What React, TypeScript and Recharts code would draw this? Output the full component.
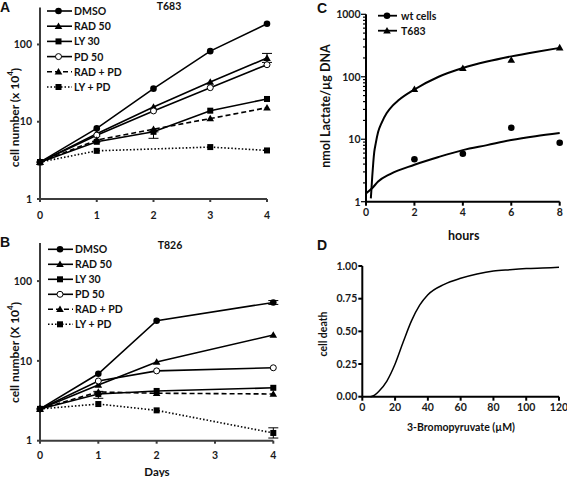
import { LineChart, ComposedChart, Line, XAxis, YAxis, Legend, ErrorBar } from "recharts";

// ---- panel A: T683 growth, cell number (x 10^4) ----
const daysA = [0, 1, 2, 3, 4];
const dmsoA = [3, 8.2, 26.8, 82, 185];
const radA = [3, 7.0, 15.5, 32.7, 66.6];
const lyA = [3, 5.5, 7.4, 13.9, 19.7];
const pdA = [3, 6.7, 13.8, 27.6, 54.7];
const radPdA = [3, 5.8, 8.0, 11, 15.2];
const lyPdA = [3, 4.2, null, 4.7, 4.25];
const radErrA = [null, null, null, null, [8, 10]];
const lyErrA = [null, null, [1.3, 0], null, null];

// ---- panel B: T826 growth ----
const daysB = [0, 1, 2, 4];
const dmsoB = [2.5, 6.9, 31.9, 54];
const radB = [2.5, 5.0, 9.7, 21.1];
const lyB = [2.5, 3.85, 4.2, 4.6];
const pdB = [2.5, 5.6, 7.5, 8.2];
const radPdB = [2.5, 4.08, 3.93, 3.85];
const lyPdB = [2.5, 2.88, 2.4, 1.25];
const dmsoErrB = [null, null, null, [3, 3]];
const lyErrB = [null, [0.45, 0.3], null, null];
const lyPdErrB = [null, null, null, [0.17, 0.2]];

const dayTicks = [0, 1, 2, 3, 4];
const growthTicks = [1, 10, 100];

// ---- panel C: lactate ----
const hoursC = [2, 4, 6, 8];
const wtC = [4.77, 5.87, 15.3, 8.8];
const t683C = [63, 137, 186, 293];
const wtFitX = [0, 0.25, 0.5, 1, 2, 3, 4, 5, 6, 7, 8];
const wtFitY = [1.36, 1.64, 2.1, 2.77, 3.9, 5.2, 6.7, 8.05, 9.7, 11.2, 12.6];
const t683FitX = [0.2, 0.26, 0.3, 0.34, 0.4, 0.5, 0.65, 0.85, 1.1, 1.34, 2, 3, 4, 5, 6, 7, 8];
const t683FitY = [1.13, 2.6, 4.2, 6.2, 8.5, 13, 18.5, 26, 34.5, 42, 62.5, 100, 138, 175, 212, 250, 290];
const hourTicks = [0, 2, 4, 6, 8];
const lactateMajor = [1, 10, 100, 1000];
const lactateMinor = [2, 3, 4, 5, 6, 7, 8, 9];

// ---- panel D: dose response ----
const doseD = [5, 7.5, 10, 15, 20, 25, 30, 35, 40, 50, 60, 70, 80, 90, 100, 110, 120];
const deathD = [0, 0.012, 0.04, 0.12, 0.25, 0.42, 0.58, 0.7, 0.78, 0.86, 0.906, 0.939, 0.962, 0.972, 0.98, 0.985, 0.99];
const doseTicks = [0, 20, 40, 60, 80, 100, 120];
const deathTicks = [0, 0.25, 0.5, 0.75, 1];

const growthSeries = [
  { key: "dmso", name: "DMSO", shape: "circle" },
  { key: "rad", name: "RAD 50", shape: "triangle" },
  { key: "ly", name: "LY 30", shape: "square" },
  { key: "pd", name: "PD 50", shape: "open" },
  { key: "radPd", name: "RAD + PD", shape: "triangle", dash: "5 3" },
  { key: "lyPd", name: "LY + PD", shape: "square", dash: "1.5 2" },
];

const tableA = daysA.map((day, i) => ({
  day,
  dmso: dmsoA[i],
  rad: radA[i],
  ly: lyA[i],
  pd: pdA[i],
  radPd: radPdA[i],
  lyPd: lyPdA[i],
  radErr: radErrA[i],
  lyErr: lyErrA[i],
}));

const tableB = daysB.map((day, i) => ({
  day,
  dmso: dmsoB[i],
  rad: radB[i],
  ly: lyB[i],
  pd: pdB[i],
  radPd: radPdB[i],
  lyPd: lyPdB[i],
  dmsoErr: dmsoErrB[i],
  lyErr: lyErrB[i],
  lyPdErr: lyPdErrB[i],
}));

const wtPts = hoursC.map((x, i) => ({ x, y: wtC[i] }));
const t683Pts = hoursC.map((x, i) => ({ x, y: t683C[i] }));
const wtFit = wtFitX.map((x, i) => ({ x, y: wtFitY[i] }));
const t683Fit = t683FitX.map((x, i) => ({ x, y: t683FitY[i] }));
const lactateTicks = [
  ...lactateMajor,
  ...lactateMajor.slice(0, 3).flatMap((d) => lactateMinor.map((m) => m * d)),
].sort((a, b) => a - b);
const tableD = doseD.map((dose, i) => ({ dose, death: deathD[i] }));

const FONT = "Lato";
const tickStyle = { fill: "#1a1a1a", fontSize: 10.5, fontWeight: "bold", fontFamily: FONT };

function Marker({ shape, cx, cy }: { shape: string; cx: number; cy: number }) {
  if (shape === "circle") return <circle cx={cx} cy={cy} r={3.3} fill="#000" />;
  if (shape === "open")
    return <circle cx={cx} cy={cy} r={3} fill="#fff" stroke="#000" strokeWidth={1} />;
  if (shape === "square") return <rect x={cx - 3} y={cy - 3} width={6} height={6} fill="#000" />;
  return (
    <polygon
      points={`${cx},${cy - 3.8} ${cx + 3.8},${cy + 2.8} ${cx - 3.8},${cy + 2.8}`}
      fill="#000"
    />
  );
}

const dotFor = (shape: string, id: string) => (p: any) => {
  if (p.value == null || p.cx == null || p.cy == null) return <g key={`${id}-${p.index}`} />;
  return (
    <g key={`${id}-${p.index}`}>
      <Marker shape={shape} cx={p.cx} cy={p.cy} />
    </g>
  );
};

function GrowthLegend({ y0, gap, lx, mx, tx }: any) {
  return (
    <svg width={110} height={100}>
      {growthSeries.map((s, i) => {
        const y = y0 + i * gap;
        return (
          <g key={s.key}>
            <line x1={lx} x2={lx + 25} y1={y} y2={y} stroke="#000" strokeWidth={1.6} strokeDasharray={s.dash} />
            <Marker shape={s.shape} cx={mx} cy={y} />
            <text x={tx} y={y} dominantBaseline="central" fontSize={10.5} fontWeight="bold" fontFamily={FONT} fill="#111">
              {s.name}
            </text>
          </g>
        );
      })}
    </svg>
  );
}

function LactateLegend() {
  const rows = [
    { name: "wt cells", shape: "circle" },
    { name: "T683", shape: "triangle" },
  ];
  return (
    <svg width={100} height={40}>
      {rows.map((r, i) => {
        const y = 15.7 + i * 15;
        return (
          <g key={r.name}>
            <line x1={8} x2={27} y1={y} y2={y} stroke="#000" strokeWidth={1.8} />
            <Marker shape={r.shape} cx={17} cy={y} />
            <text x={31} y={y} dominantBaseline="central" fontSize={10.5} fontWeight="bold" fontFamily={FONT} fill="#111">
              {r.name}
            </text>
          </g>
        );
      })}
    </svg>
  );
}

function LactateTick(props: any) {
  const { x, y, payload } = props;
  const major = lactateMajor.includes(payload.value);
  const ax = x + 5;
  return (
    <g>
      <line x1={ax} x2={ax - (major ? 5 : 3)} y1={y} y2={y} stroke="#000" strokeWidth={1.2} />
      {major && (
        <text x={ax - 5.5} y={y} textAnchor="end" dominantBaseline="central" {...tickStyle}>
          {payload.value}
        </text>
      )}
    </g>
  );
}

function GrowthChart({ data, width, height, margin, legend, errs, xTickMargin }: any) {
  const axisColor = "#3c3c3c";
  return (
    <LineChart width={width} height={height} data={data} margin={margin}>
      <XAxis
        dataKey="day"
        type="number"
        domain={[0, 4]}
        ticks={dayTicks}
        interval={0}
        height={25}
        stroke={axisColor}
        strokeWidth={2}
        tickSize={3}
        tickMargin={xTickMargin}
        tick={tickStyle}
      />
      <YAxis
        type="number"
        scale="log"
        domain={[1, 300]}
        allowDataOverflow
        ticks={growthTicks}
        interval={0}
        width={40}
        stroke={axisColor}
        strokeWidth={2}
        tickSize={3}
        tickMargin={5}
        tick={tickStyle}
      />
      {growthSeries.map((s) => (
        <Line
          key={s.key}
          dataKey={s.key}
          type="linear"
          stroke="#000"
          strokeWidth={1.6}
          strokeDasharray={s.dash}
          connectNulls
          dot={dotFor(s.shape, s.key)}
          activeDot={false}
          isAnimationActive={false}
        >
          {errs.includes(s.key) && (
            <ErrorBar dataKey={`${s.key}Err`} width={5} stroke="#000" strokeWidth={1} direction="y" />
          )}
        </Line>
      ))}
      <Legend
        layout="vertical"
        align="center"
        verticalAlign="middle"
        wrapperStyle={{ left: 45, top: 0, width: 110 }}
        content={() => <GrowthLegend {...legend} />}
      />
    </LineChart>
  );
}

export default function App() {
  return (
    <div style={{ position: "absolute", left: 0, top: 0, width: 567, height: 477, background: "#fff", fontFamily: FONT }}>
      <div style={{ position: "absolute", left: 0, top: 0 }}>
        <GrowthChart
          data={tableA}
          width={290}
          height={230}
          margin={{ top: 7.6, right: 23, bottom: 6, left: 0 }}
          legend={{ y0: 11, gap: 15.2, lx: 2, mx: 13.5, tx: 29 }}
          errs={["rad", "ly"]}
          xTickMargin={10}
        />
      </div>
      <div style={{ position: "absolute", left: 0, top: 235 }}>
        <GrowthChart
          data={tableB}
          width={295}
          height={242}
          margin={{ top: 8, right: 21.7, bottom: 11.3, left: 0 }}
          legend={{ y0: 14.3, gap: 15, lx: 3, mx: 15, tx: 30 }}
          errs={["dmso", "ly", "lyPd"]}
          xTickMargin={8}
        />
      </div>
      <div style={{ position: "absolute", left: 300, top: 0 }}>
        <ComposedChart width={267} height={240} margin={{ top: 14.3, right: 7.3, bottom: 18.3, left: 0 }}>
          <XAxis
            dataKey="x"
            type="number"
            domain={[0, 8]}
            ticks={hourTicks}
            interval={0}
            height={20}
            stroke="#000"
            strokeWidth={2}
            tickSize={4}
            tickMargin={3}
            tick={tickStyle}
          />
          <YAxis
            type="number"
            scale="log"
            domain={[1, 1000]}
            allowDataOverflow
            ticks={lactateTicks}
            interval={0}
            width={66}
            stroke="#000"
            strokeWidth={2}
            tickLine={false}
            tickSize={5}
            tickMargin={0}
            tick={<LactateTick />}
          />
          <Line data={t683Fit} dataKey="y" type="monotone" stroke="#000" strokeWidth={2} dot={false} activeDot={false} isAnimationActive={false} />
          <Line data={wtFit} dataKey="y" type="monotone" stroke="#000" strokeWidth={2} dot={false} activeDot={false} isAnimationActive={false} />
          <Line data={wtPts} dataKey="y" stroke="none" dot={dotFor("circle", "wt")} activeDot={false} isAnimationActive={false} />
          <Line data={t683Pts} dataKey="y" stroke="none" dot={dotFor("triangle", "t683")} activeDot={false} isAnimationActive={false} />
          <Legend
            layout="vertical"
            align="center"
            verticalAlign="middle"
            wrapperStyle={{ left: 70, top: 0, width: 100 }}
            content={() => <LactateLegend />}
          />
        </ComposedChart>
      </div>
      <div style={{ position: "absolute", left: 300, top: 240 }}>
        <LineChart width={267} height={200} data={tableD} margin={{ top: 26, right: 8, bottom: 23.3, left: 0 }}>
          <XAxis
            dataKey="dose"
            type="number"
            domain={[0, 120]}
            ticks={doseTicks}
            interval={0}
            height={20}
            stroke="#000"
            strokeWidth={2}
            tickSize={4}
            tickMargin={3}
            tick={tickStyle}
          />
          <YAxis
            type="number"
            domain={[0, 1]}
            ticks={deathTicks}
            interval={0}
            width={62.3}
            stroke="#000"
            strokeWidth={2}
            tickSize={4}
            tickMargin={1}
            tick={tickStyle}
            tickFormatter={(v: number) => v.toFixed(2)}
          />
          <Line dataKey="death" type="monotone" stroke="#000" strokeWidth={1.5} dot={false} activeDot={false} isAnimationActive={false} />
        </LineChart>
      </div>
      <svg
        width={567}
        height={477}
        style={{ position: "absolute", left: 0, top: 0, pointerEvents: "none" }}
        fontFamily={FONT}
        fontWeight="bold"
        fill="#111"
      >
        <text x={0} y={12} fontSize={14} fontFamily="Liberation Sans">A</text>
        <text x={0} y={247} fontSize={14} fontFamily="Liberation Sans">B</text>
        <text x={317} y={13} fontSize={14} fontFamily="Liberation Sans">C</text>
        <text x={317} y={250} fontSize={14} fontFamily="Liberation Sans">D</text>
        <text x={169} y={10} fontSize={10.5} textAnchor="middle">T683</text>
        <text x={170} y={248.5} fontSize={10.5} textAnchor="middle">T826</text>
        <text x={14.5} y={117.5} fontSize={12} textAnchor="middle" dominantBaseline="central" transform="rotate(-90 14.5 117.5)">
          cell number (x 10<tspan fontSize={8} dy={-4.5}>4</tspan><tspan dy={4.5}>)</tspan>
        </text>
        <text x={14.5} y={352.5} fontSize={12} textAnchor="middle" dominantBaseline="central" transform="rotate(-90 14.5 352.5)">
          cell number (X 10<tspan fontSize={8} dy={-4.5}>4</tspan><tspan dy={4.5}>)</tspan>
        </text>
        <text x={157} y={471} fontSize={11.5} textAnchor="middle" dominantBaseline="central">Days</text>
        <text x={325} y={106} fontSize={12.5} textAnchor="middle" dominantBaseline="central" transform="rotate(-90 325 106)">
          nmol Lactate/µg DNA
        </text>
        <text x={463.7} y={235} fontSize={12.5} textAnchor="middle" dominantBaseline="central">hours</text>
        <text x={323} y={334} fontSize={10.5} textAnchor="middle" dominantBaseline="central" transform="rotate(-90 323 334)">
          cell death
        </text>
        <text x={461} y={427} fontSize={10.5} textAnchor="middle" dominantBaseline="central">
          3-Bromopyruvate (µM)
        </text>
      </svg>
    </div>
  );
}
